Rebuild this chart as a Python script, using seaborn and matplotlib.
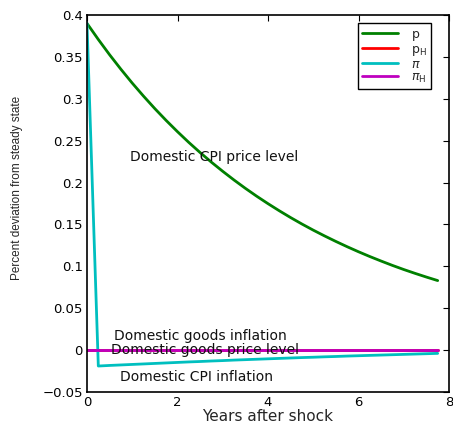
import matplotlib
matplotlib.use("Agg")
import matplotlib.pyplot as plt
import seaborn as sns
import pandas as pd
import numpy as np

# ---- data ----
years = [0.00, 0.25, 0.50, 0.75, 1.00, 1.25, 1.50, 1.75, 2.00, 2.25, 2.50, 2.75,
         3.00, 3.25, 3.50, 3.75, 4.00, 4.25, 4.50, 4.75, 5.00, 5.25, 5.50, 5.75,
         6.00, 6.25, 6.50, 6.75, 7.00, 7.25, 7.50, 7.75]
p_cpi = [0.3900, 0.3708, 0.3525, 0.3352, 0.3187, 0.3031, 0.2882, 0.2741,
         0.2607, 0.2479, 0.2358, 0.2243, 0.2134, 0.2030, 0.1931, 0.1837,
         0.1748, 0.1663, 0.1582, 0.1505, 0.1432, 0.1363, 0.1297, 0.1234,
         0.1174, 0.1117, 0.1063, 0.1011, 0.0962, 0.0916, 0.0872, 0.0830]
p_home = [0.0] * 32
pi_cpi = [0.3900, -0.0190, -0.0183, -0.0177, -0.0171, -0.0165, -0.0159, -0.0153,
          -0.0147, -0.0141, -0.0136, -0.0130, -0.0125, -0.0119, -0.0114, -0.0109,
          -0.0104, -0.0099, -0.0094, -0.0089, -0.0085, -0.0080, -0.0076, -0.0071,
          -0.0067, -0.0063, -0.0059, -0.0055, -0.0051, -0.0047, -0.0043, -0.0039]
pi_home = [0.0] * 32

series_labels = [r'$\mathrm{p}$', r'$\mathrm{p_H}$', r'$\pi$', r'$\pi_\mathrm{H}$']
series_colors = ['#008000', '#ff0000', '#00bfbf', '#bf00bf']

y_ticks = [-0.05, 0, 0.05, 0.1, 0.15, 0.2, 0.25, 0.3, 0.35, 0.4]
y_tick_labels = ['\u22120.05', '0', '0.05', '0.1', '0.15', '0.2', '0.25', '0.3', '0.35', '0.4']
x_ticks = [0, 2, 4, 6, 8]
x_tick_labels = ['0', '2', '4', '6', '8']

annotations = [
    ("Domestic CPI price level", 0.95, 0.2305),
    ("Domestic goods inflation", 0.60, 0.0167),
    ("Domestic goods price level", 0.53, 0.0),
    ("Domestic CPI inflation", 0.73, -0.0320),
]

# ---- plotting ----
sns.set_style("white")
plt.rcParams['font.family'] = ['DejaVu Sans']
plt.rcParams['mathtext.fontset'] = 'dejavusans'

df = pd.DataFrame({
    'year': years * 4,
    'value': p_cpi + p_home + pi_cpi + pi_home,
    'series': sum([[lab] * len(years) for lab in series_labels], []),
})

fig = plt.figure(figsize=(4.53, 4.26), dpi=100)
ax = fig.add_axes([87 / 453, 1 - 392 / 426, (449 - 87) / 453, (392 - 15) / 426])

sns.lineplot(data=df, x='year', y='value', hue='series', hue_order=series_labels,
             palette=series_colors, linewidth=2.0, ax=ax, legend=True,
             estimator=None, sort=False)

ax.set_xlim(0, 8)
ax.set_ylim(-0.05, 0.4)
ax.set_xticks(x_ticks)
ax.set_xticklabels(x_tick_labels, fontsize=9.5)
ax.set_yticks(y_ticks)
ax.set_yticklabels(y_tick_labels, fontsize=9.5)
ax.tick_params(direction='in', length=4, width=0.8, top=True, right=True,
               colors='black', pad=3)
for s in ax.spines.values():
    s.set_visible(True)
    s.set_color('black')
    s.set_linewidth(1.2)

ax.set_xlabel("Years after shock", fontsize=11, labelpad=0)
ax.set_ylabel("Percent deviation from steady state", fontsize=8.5,
              family=['Liberation Sans Narrow', 'Liberation Sans', 'DejaVu Sans'])
ax.yaxis.set_label_coords(-0.178, 0.54)

for txt, x, y in annotations:
    ax.text(x, y, txt, fontsize=10, va='center', ha='left', color='#111111')

leg = ax.legend(loc='upper right', bbox_to_anchor=(0.95, 0.978), fontsize=9,
                frameon=True, fancybox=False, edgecolor='black', framealpha=1,
                handlelength=2.9, labelspacing=0.0, borderpad=0.35,
                handletextpad=1.0, borderaxespad=0)
leg.get_frame().set_linewidth(1.0)
for line in leg.get_lines():
    line.set_linewidth(2.0)

fig.savefig("out.png", dpi=100)
